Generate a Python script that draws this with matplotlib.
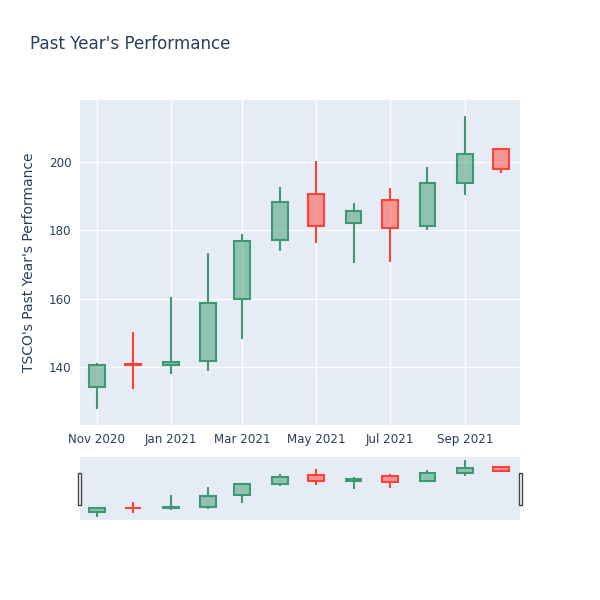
import matplotlib
matplotlib.use("Agg")
import matplotlib.pyplot as plt
import matplotlib.dates as mdates
from matplotlib.patches import Rectangle
import datetime as dt

plt.rcParams['font.family'] = ['DejaVu Sans']

dates = ["2020-11-01", "2020-12-01", "2021-01-01", "2021-02-01", "2021-03-01", "2021-04-01",
         "2021-05-01", "2021-06-01", "2021-07-01", "2021-08-01", "2021-09-01", "2021-10-01"]
opens = [134.2, 140.8, 140.6, 141.8, 159.9, 177.2, 190.7, 182.3, 188.9, 181.3, 193.8, 203.8]
highs = [141.1, 150.3, 160.5, 173.5, 178.9, 192.6, 200.4, 187.9, 192.3, 198.7, 213.5, 203.8]
lows = [127.6, 133.5, 138.0, 138.9, 148.2, 174.1, 176.4, 170.5, 170.8, 180.1, 190.4, 196.9]
closes = [140.6, 140.5, 141.6, 158.8, 176.9, 188.4, 181.4, 185.8, 180.7, 194.0, 202.4, 198.0]

xticks = ["2020-11-01", "2021-01-01", "2021-03-01", "2021-05-01", "2021-07-01", "2021-09-01"]
xtick_labels = ["Nov 2020", "Jan 2021", "Mar 2021", "May 2021", "Jul 2021", "Sep 2021"]
yticks = [140, 160, 180, 200]

title = "Past Year's Performance"
ylabel = "TSCO's Past Year's Performance"

INC = "#3D9970"
DEC = "#FF4136"
BG = "#E5ECF6"
TXT = "#2a3f5f"

x = mdates.date2num([dt.datetime.fromisoformat(d) for d in dates])
xmin = mdates.date2num(dt.datetime(2020, 10, 18))
xmax = xmin + 363.5
W = 13.0

fig = plt.figure(figsize=(6, 6), dpi=100)
W_PX, H_PX = 600, 600


def ax_at(l, t, r, b):
    return fig.add_axes([l / W_PX, 1 - b / H_PX, (r - l) / W_PX, (b - t) / H_PX])


def draw_candles(ax, lw):
    for xi, o, h, l, c in zip(x, opens, highs, lows, closes):
        col = INC if c > o else DEC
        lo_b, hi_b = min(o, c), max(o, c)
        ax.vlines(xi, l, lo_b, color=col, lw=lw, zorder=3)
        ax.vlines(xi, hi_b, h, color=col, lw=lw, zorder=3)
        ax.add_patch(Rectangle((xi - W / 2, lo_b), W, hi_b - lo_b,
                               facecolor=matplotlib.colors.to_rgba(col, 0.5),
                               edgecolor=col, lw=lw, zorder=4))


ax = ax_at(80, 100, 520, 425)
ax.set_facecolor(BG)
for s in ax.spines.values():
    s.set_visible(False)
draw_candles(ax, 1.5)
ax.set_xlim(xmin, xmax)
ax.set_ylim(123.0, 218.2)
ax.set_xticks(mdates.date2num([dt.datetime.fromisoformat(d) for d in xticks]))
ax.set_xticklabels(xtick_labels)
ax.set_yticks(yticks)
ax.set_yticklabels([str(v) for v in yticks])
ax.tick_params(length=0, labelsize=8.6, colors=TXT, pad=6)
ax.grid(True, color="white", lw=1.0, zorder=0)
ax.set_axisbelow(True)
ax.set_ylabel(ylabel, fontsize=10, color=TXT)
ax.yaxis.set_label_coords((36 - 80) / 440, 0.5)

# range slider
axs = ax_at(80, 457, 520, 520)
axs.set_facecolor(BG)
for s in axs.spines.values():
    s.set_visible(False)
draw_candles(axs, 1.5)
axs.set_xlim(xmin, xmax)
ymin_all, ymax_all = min(lows), max(highs)
pad = (ymax_all - ymin_all) * 0.06
axs.set_ylim(ymin_all - pad, ymax_all + pad)
axs.set_xticks([])
axs.set_yticks([])

# slider handles
for hx in (77.5, 518.5):
    fig.patches.append(Rectangle((hx / W_PX, 1 - 505 / H_PX), 3.5 / W_PX, 32 / H_PX,
                                 transform=fig.transFigure, facecolor="white",
                                 edgecolor="#444444", lw=1.0))

fig.text(30 / W_PX, 1 - 44 / H_PX, title, fontsize=12.1, color=TXT, va="center", ha="left")

fig.savefig("out.png", dpi=100)
